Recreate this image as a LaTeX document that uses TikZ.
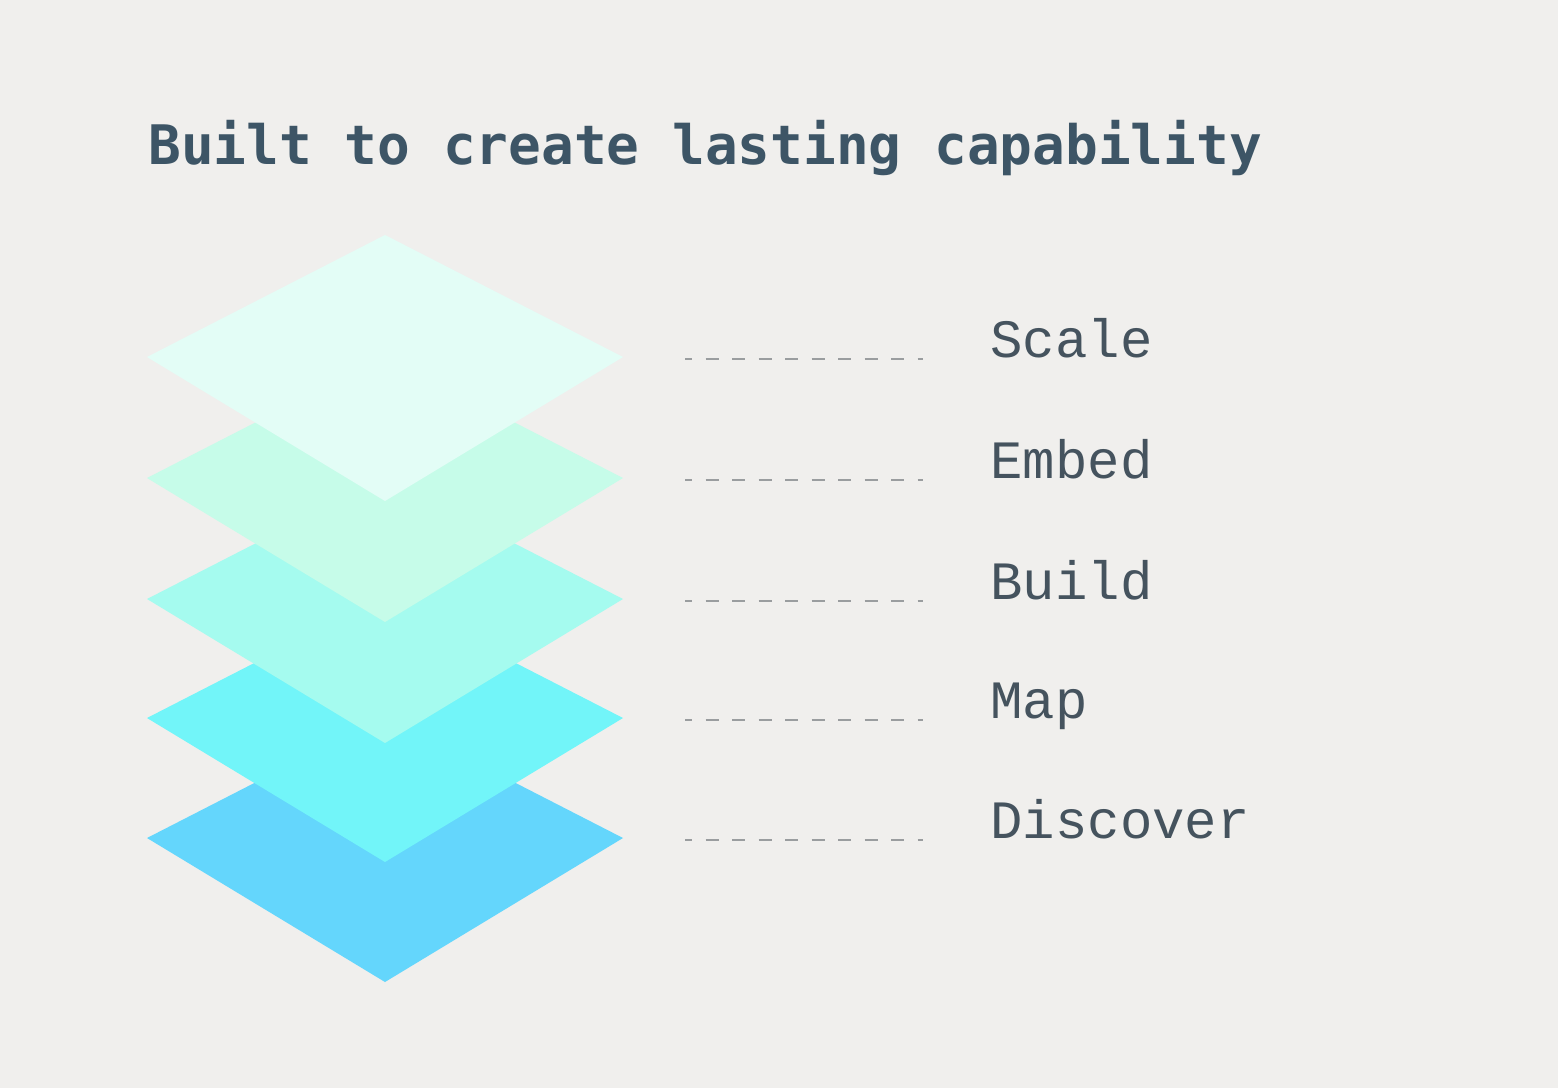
\documentclass[tikz,border=0pt]{standalone}
\usepackage{fontspec}
\newfontfamily\titlefont{DejaVu Sans Mono}
\newfontfamily\labelfont{Liberation Mono}

\definecolor{bgcol}{HTML}{F0EFED}
\definecolor{scalecol}{HTML}{E3FDF6}
\definecolor{embedcol}{HTML}{C6FCE9}
\definecolor{buildcol}{HTML}{A5FBEF}
\definecolor{mapcol}{HTML}{72F5F9}
\definecolor{disccol}{HTML}{64D6FC}
\definecolor{titlecol}{HTML}{3D5566}
\definecolor{labelcol}{HTML}{45535E}
\definecolor{dashcol}{HTML}{9A9D9F}

\tikzset{
  heading/.style={text=titlecol, inner sep=0pt, font=\titlefont\bfseries\fontsize{27.2}{30}\selectfont},
  layername/.style={text=labelcol, inner sep=0pt, font=\labelfont\fontsize{27}{30}\selectfont},
  dashline/.style={draw=dashcol, line width=0.75pt, dash pattern=on 6.5pt off 6.75pt, dash phase=3pt}
}

\begin{document}
\begin{tikzpicture}[x=0.5pt, y=-0.5pt]
    % Background
    \fill[bgcol] (0,0) rectangle (1558,1088);
    \useasboundingbox (0,0) rectangle (1558,1088);

    % Title
    \node[heading, anchor=base west] (title) at (148,164) {Built to create lasting capability};

    % Draw the layers from the bottom up, with a dashed line to each name
    \foreach \c/\col/\txt/\nm [count=\i] in {838/disccol/Discover/discover,
                                             718/mapcol/Map/map,
                                             599/buildcol/Build/build,
                                             478/embedcol/Embed/embed,
                                             357/scalecol/Scale/scale} {
      \fill[\col] (385,\c-122) -- (147,\c) -- (385,\c+144) -- (623,\c) -- cycle;
      \coordinate (tip\i) at (623,\c);
      \node[layername, anchor=base west] (\nm) at (990,\c) {\txt};
      \draw[dashline] ([xshift=31pt,yshift=-1pt]tip\i) -- ([xshift=-33.5pt,yshift=-1pt]\nm.west |- tip\i);
    }
  \end{tikzpicture}
\end{document}
